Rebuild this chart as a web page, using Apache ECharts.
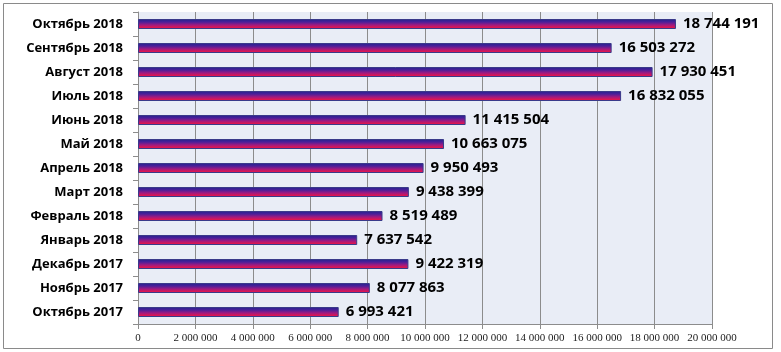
<!DOCTYPE html>
<html><head><meta charset="utf-8">
<script src="https://cdn.jsdelivr.net/npm/echarts@6/dist/echarts.min.js"></script>
<style>html,body{margin:0;padding:0;background:#fff}#c{width:781px;height:352px}</style>
</head><body><div id="c"></div>
<script>
const categories = ['Октябрь 2018','Сентябрь 2018','Август 2018','Июль 2018','Июнь 2018','Май 2018','Апрель 2018','Март 2018','Февраль 2018','Январь 2018','Декабрь 2017','Ноябрь 2017','Октябрь 2017'];
const values = [18744191,16503272,17930451,16832055,11415504,10663075,9950493,9438399,8519489,7637542,9422319,8077863,6993421];
const fmt = v => String(v).replace(/\B(?=(\d{3})+(?!\d))/g, ' ');
const chart = echarts.init(document.getElementById('c'));
chart.setOption({
  animation: false,
  graphic: [{type:'rect', shape:{x:3.5,y:3.5,width:769,height:345}, style:{fill:'none', stroke:'#8a8a8a', lineWidth:1}, z:-10}],
  grid: {left:138, right:69, top:12, bottom:28, show:true, backgroundColor:'#e9edf6', borderWidth:0},
  xAxis: {type:'value', min:0, max:20000000, interval:2000000,
    axisLine:{show:true, lineStyle:{color:'#8c8c8c'}},
    axisTick:{show:true, length:5, lineStyle:{color:'#8c8c8c'}},
    splitLine:{show:true, lineStyle:{color:'#8c8c8c', width:1}},
    axisLabel:{formatter: fmt, fontFamily:'Liberation Sans Narrow', fontSize:11, color:'#222', margin:9}},
  yAxis: {type:'category', data:categories, inverse:true,
    axisLine:{show:true, lineStyle:{color:'#8c8c8c'}},
    axisTick:{show:true, length:5, lineStyle:{color:'#8c8c8c'}},
    axisLabel:{fontFamily:'Open Sans', fontWeight:'bold', fontSize:13, color:'#000', margin:15}},
  series: [{type:'bar', data:values, barWidth:10,
    itemStyle:{color:new echarts.graphic.LinearGradient(0,0,0,1,[
      {offset:0,color:'#22228c'},{offset:0.3,color:'#4a1f9a'},{offset:0.6,color:'#a01a80'},{offset:1,color:'#ff1438'}]),
      borderColor:'#3a3a8a', borderWidth:1},
    label:{show:true, position:'right', distance:7, formatter:p=>fmt(p.value), fontFamily:'Open Sans', fontWeight:'bold', fontSize:15, color:'#000'}}]
});
</script></body></html>
